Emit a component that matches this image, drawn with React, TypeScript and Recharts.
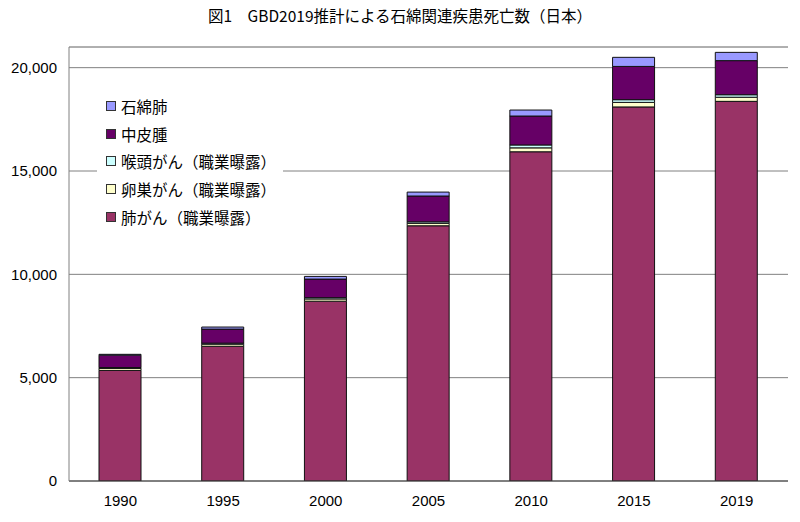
import React from 'react';
import {
    BarChart,
    Bar,
    XAxis,
    YAxis,
    CartesianGrid,
    Legend,
    ReferenceLine
} from 'recharts';

// 石綿関連疾患の推計死亡数 (GBD2019, 日本)
const years = ['1990', '1995', '2000', '2005', '2010', '2015', '2019'];
const lungCancer = [5350, 6520, 8700, 12350, 15930, 18100, 18370];
const ovarianCancer = [100, 100, 110, 120, 190, 220, 200];
const laryngealCancer = [40, 50, 60, 70, 140, 130, 120];
const mesothelioma = [600, 680, 900, 1250, 1400, 1610, 1650];
const asbestosis = [40, 100, 130, 190, 290, 440, 400];

const yTicks = [0, 5000, 10000, 15000, 20000];

// stacked bottom -> top
const series = [
    { key: 'lung', name: '肺がん（職業曝露）', color: '#993366', values: lungCancer },
    { key: 'ovary', name: '卵巣がん（職業曝露）', color: '#FFFFCC', values: ovarianCancer },
    { key: 'larynx', name: '喉頭がん（職業曝露）', color: '#CCFFFF', values: laryngealCancer },
    { key: 'meso', name: '中皮腫', color: '#660066', values: mesothelioma },
    { key: 'asb', name: '石綿肺', color: '#9999FF', values: asbestosis },
];

const chartData = years.map((year, i) => {
    const row: Record<string, string | number> = { year };
    series.forEach((s) => { row[s.key] = s.values[i]; });
    return row;
});

const jpFont = '"Noto Sans CJK JP", "Noto Sans", sans-serif';
const numFont = '"Liberation Sans", Arial, sans-serif';

// legend lists the top of the stack first
function renderLegend() {
    const items = [...series].reverse();
    return (
        <div style={{ padding: '2px 0 0 9px' }}>
            {items.map((item) => (
                <div
                    key={item.key}
                    style={{ display: 'flex', alignItems: 'center', height: 27.7, fontFamily: jpFont, fontSize: 15.5, color: '#000' }}
                >
                    <span
                        style={{
                            display: 'inline-block',
                            width: 8,
                            height: 8,
                            background: item.color,
                            border: '1px solid #333',
                            marginRight: 5,
                        }}
                    />
                    {item.name}
                </div>
            ))}
        </div>
    );
}

export default function App() {
    return (
        <div style={{ position: 'absolute', left: 0, top: 0, width: 800, height: 522, background: '#fff' }}>
            <div
                style={{
                    position: 'absolute',
                    top: 4,
                    left: 0,
                    width: 800,
                    textAlign: 'center',
                    fontFamily: jpFont,
                    fontSize: 15.5,
                    color: '#000',
                }}
            >
                図1　GBD2019推計による石綿関連疾患死亡数（日本）
            </div>
            <BarChart
                width={800}
                height={522}
                data={chartData}
                margin={{ top: 47, right: 12, bottom: 0, left: 0 }}
                barSize={42}
            >
                <CartesianGrid vertical={false} stroke="#808080" strokeWidth={1} />
                <ReferenceLine y={21000} stroke="#a0a0a0" />
                <XAxis
                    dataKey="year"
                    height={41}
                    tickLine={false}
                    tickMargin={8}
                    axisLine={{ stroke: '#404040' }}
                    tick={{ fill: '#000', fontSize: 15, fontFamily: numFont }}
                />
                <YAxis
                    width={69}
                    domain={[0, 21000]}
                    ticks={yTicks}
                    allowDataOverflow
                    tickLine={false}
                    tickMargin={6}
                    axisLine={{ stroke: '#808080' }}
                    tickFormatter={(v: number) => v.toLocaleString('en-US')}
                    tick={{ fill: '#000', fontSize: 15, fontFamily: numFont }}
                />
                <YAxis
                    yAxisId="right"
                    orientation="right"
                    width={0}
                    tick={false}
                    tickLine={false}
                    axisLine={{ stroke: '#a0a0a0' }}
                />
                <Legend
                    layout="vertical"
                    align="center"
                    verticalAlign="middle"
                    content={renderLegend}
                    wrapperStyle={{ left: 97, top: 90, width: 186, height: 140, background: '#fff' }}
                />
                {series.map((s) => (
                    <Bar
                        key={s.key}
                        dataKey={s.key}
                        name={s.name}
                        stackId="a"
                        fill={s.color}
                        stroke="#111"
                        strokeWidth={1}
                        isAnimationActive={false}
                    />
                ))}
            </BarChart>
        </div>
    );
}
